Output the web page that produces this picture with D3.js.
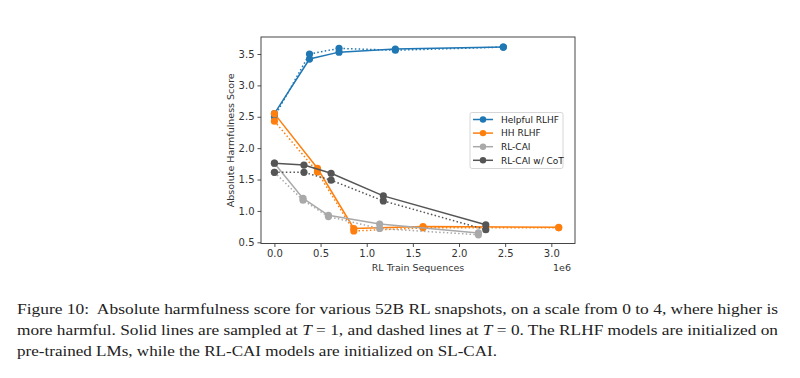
<!DOCTYPE html>
<html><head><meta charset="utf-8">
<script src="https://cdn.jsdelivr.net/npm/d3@7"></script>
<style>body{margin:0;background:#fff}svg{display:block}</style>
</head><body>
<script>
// ---- data ----
const seriesNames = ["Helpful RLHF", "HH RLHF", "RL-CAI", "RL-CAI w/ CoT"];
const seriesColors = ["#1f77b4", "#ff7f0e", "#a9a9a9", "#555555"];
const helpfulX = [0, 0.38, 0.70, 1.31, 2.48];
const helpfulSolid = [2.55, 3.42, 3.53, 3.58, 3.61];
const helpfulDashed = [2.50, 3.50, 3.59, 3.56, 3.61];
const hhX = [0, 0.466, 0.86, 1.61, 3.08];
const hhSolid = [2.55, 1.68, 0.72, 0.75, 0.74];
const hhDashed = [2.43, 1.62, 0.68, 0.73, 0.73];
const caiX = [0, 0.31, 0.585, 1.14, 2.21];
const caiSolid = [1.76, 1.20, 0.93, 0.79, 0.65];
const caiDashed = [1.615, 1.17, 0.91, 0.72, 0.62];
const cotX = [0, 0.32, 0.614, 1.18, 2.29];
const cotSolid = [1.76, 1.73, 1.60, 1.24, 0.78];
const cotDashed = [1.615, 1.615, 1.49, 1.16, 0.70];
const xTicks = [0.0, 0.5, 1.0, 1.5, 2.0, 2.5, 3.0];
const yTicks = [0.5, 1.0, 1.5, 2.0, 2.5, 3.0, 3.5];
const xLabel = "RL Train Sequences";
const yLabel = "Absolute Harmfulness Score";
const captionLines = [
  ["Figure 10:  Absolute harmfulness score for various 52B RL snapshots, on a scale from 0 to 4, where higher is"],
  ["more harmful. Solid lines are sampled at ", {i:"T"}, " = 1, and dashed lines at ", {i:"T"}, " = 0. The RLHF models are initialized on"],
  ["pre-trained LMs, while the RL-CAI models are initialized on SL-CAI."]
];

const series = [
  {name: seriesNames[0], color: seriesColors[0], x: helpfulX, solid: helpfulSolid, dashed: helpfulDashed},
  {name: seriesNames[1], color: seriesColors[1], x: hhX, solid: hhSolid, dashed: hhDashed},
  {name: seriesNames[2], color: seriesColors[2], x: caiX, solid: caiSolid, dashed: caiDashed},
  {name: seriesNames[3], color: seriesColors[3], x: cotX, solid: cotSolid, dashed: cotDashed}
];

const W = 800, H = 378;
const svg = d3.select("body").append("svg").attr("width", W).attr("height", H)
  .style("font-family", "'DejaVu Sans', sans-serif");

const L = 261, R = 575, T = 37, B = 243.5;
const x = d3.scaleLinear().domain([-0.1455, 3.2566]).range([L, R]);
const y = d3.scaleLinear().domain([0.481, 3.771]).range([B, T]);

// axes
const xAxis = svg.append("g").attr("transform", `translate(0,${B})`)
  .call(d3.axisBottom(x).tickValues(xTicks).tickFormat(d3.format(".1f")).tickSizeOuter(0).tickSize(3.5).tickPadding(3));
const yAxis = svg.append("g").attr("transform", `translate(${L},0)`)
  .call(d3.axisLeft(y).tickValues(yTicks).tickFormat(d3.format(".1f")).tickSizeOuter(0).tickSize(3.5).tickPadding(3));
[xAxis, yAxis].forEach(a => {
  a.select(".domain").remove();
  a.selectAll("line").attr("stroke", "#222").attr("stroke-width", 0.8);
  a.selectAll("text").attr("fill", "#333").style("font-size", "10px").style("font-family", "'DejaVu Sans', sans-serif");
});
svg.append("rect").attr("x", L).attr("y", T).attr("width", R - L).attr("height", B - T)
  .attr("fill", "none").attr("stroke", "#333").attr("stroke-width", 0.9);

svg.append("text").attr("x", (L + R) / 2).attr("y", 271).attr("text-anchor", "middle")
  .style("font-size", "9.5px").attr("fill", "#333").text(xLabel);
svg.append("text").attr("x", R - 13).attr("y", 271).attr("text-anchor", "middle")
  .style("font-size", "9.5px").attr("fill", "#333").text("1e6");
svg.append("text").attr("transform", `translate(234,${(T + B) / 2}) rotate(-90)`).attr("text-anchor", "middle")
  .style("font-size", "9.5px").attr("fill", "#333").text(yLabel);

// lines
const line = d3.line().x(d => x(d[0])).y(d => y(d[1]));
const plot = svg.append("g");
series.forEach(s => {
  const solidPts = s.x.map((v, i) => [v, s.solid[i]]);
  const dashPts = s.x.map((v, i) => [v, s.dashed[i]]);
  plot.append("path").datum(dashPts).attr("d", line).attr("fill", "none")
    .attr("stroke", s.color).attr("stroke-width", 1.5).attr("stroke-dasharray", "1.5,2.3");
  plot.append("path").datum(solidPts).attr("d", line).attr("fill", "none")
    .attr("stroke", s.color).attr("stroke-width", 1.5);
  plot.selectAll(null).data(dashPts.concat(solidPts)).enter().append("circle")
    .attr("cx", d => x(d[0])).attr("cy", d => y(d[1])).attr("r", 3.6).attr("fill", s.color);
});

// legend
const lg = svg.append("g");
lg.append("rect").attr("x", 470).attr("y", 112.5).attr("width", 93).attr("height", 56)
  .attr("fill", "#fff").attr("fill-opacity", 0.8).attr("stroke", "#ccc").attr("stroke-width", 0.8).attr("rx", 2);
series.forEach((s, i) => {
  const yy = 119.5 + i * 13.6;
  lg.append("line").attr("x1", 473).attr("x2", 493).attr("y1", yy).attr("y2", yy)
    .attr("stroke", s.color).attr("stroke-width", 1.5);
  lg.append("circle").attr("cx", 483).attr("cy", yy).attr("r", 3.2).attr("fill", s.color);
  lg.append("text").attr("x", 501).attr("y", yy + 3.3).style("font-size", "9px").attr("fill", "#222").text(s.name);
});

// caption
const capY = [314, 335, 356];
const capEnd = [778, 778, 497];
captionLines.forEach((parts, i) => {
  const t = svg.append("text").attr("x", 17).attr("y", capY[i])
    .style("font-family", "'Liberation Serif', 'DejaVu Serif', serif").style("font-size", "15.5px")
    .style("white-space", "pre").attr("fill", "#222")
    .attr("textLength", capEnd[i] - 17).attr("lengthAdjust", "spacingAndGlyphs");
  parts.forEach(p => {
    if (typeof p === "string") t.append("tspan").text(p);
    else t.append("tspan").style("font-style", "italic").text(p.i);
  });
});
</script>
</body></html>
